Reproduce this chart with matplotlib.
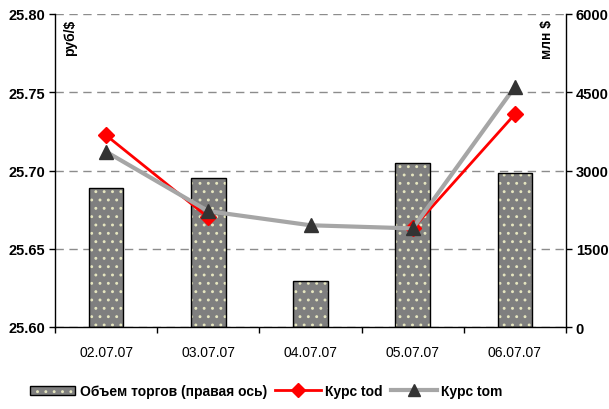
import numpy as np
import matplotlib
matplotlib.use("Agg")
import matplotlib.pyplot as plt
from matplotlib.patches import Patch
from matplotlib.lines import Line2D
from matplotlib.legend_handler import HandlerTuple

plt.rcParams['font.family'] = ['Liberation Sans', 'DejaVu Sans']
plt.rcParams['hatch.linewidth'] = 0.9

dates = ["02.07.07", "03.07.07", "04.07.07", "05.07.07", "06.07.07"]
volume = [2665, 2860, 880, 3150, 2960]
kurs_tod = [25.7225, 25.670, np.nan, 25.663, 25.736]
kurs_tom = [25.712, 25.674, 25.665, 25.663, 25.7535]

fig = plt.figure(figsize=(6.09, 4.10), dpi=100)
axL = fig.add_axes([55/609, 1-328/410, (566-55)/609, (328-15)/410])
axR = axL.twinx()
axL.set_zorder(axR.get_zorder() + 1)
axL.patch.set_visible(False)

x = np.arange(len(dates))
# bars on right axis
axR.bar(x, volume, width=0.34, color="#7f7f7f", edgecolor="#e6e6c0",
        hatch="..", linewidth=0, zorder=2)
axR.bar(x, volume, width=0.34, facecolor="none", edgecolor="black",
        linewidth=1.0, zorder=3)
axR.set_ylim(0, 6000)
axR.set_yticks([0, 1500, 3000, 4500, 6000])
axR.yaxis.grid(True, linestyle=(0, (6, 4)), color="#8c8c8c", linewidth=1.0, zorder=0)
axR.set_axisbelow(True)

# lines on left axis (gap where no tod quote)
axL.plot(x, kurs_tod, color="#ff0000", linewidth=2, marker="D", markersize=8,
         markerfacecolor="#ff0000", markeredgecolor="#ff0000", zorder=4)
axL.plot(x, kurs_tom, color="#a6a6a6", linewidth=3, marker="^", markersize=10,
         markerfacecolor="#333333", markeredgecolor="#333333", zorder=5)
axL.set_ylim(25.60, 25.80)
axL.set_yticks([25.60, 25.65, 25.70, 25.75, 25.80])
axL.set_yticklabels([f"{v:.2f}" for v in [25.60, 25.65, 25.70, 25.75, 25.80]])
axL.set_xlim(-0.5, len(dates) - 0.5)
axL.set_xticks(x)
axL.set_xticklabels(dates, fontsize=10)
axL.set_xticks(np.arange(-0.5, len(dates), 1.0), minor=True)
axL.tick_params(axis='x', which='major', length=0, pad=13)
axL.tick_params(axis='x', which='minor', length=4, width=1, direction='out')

for ax in (axL, axR):
    ax.spines['top'].set_visible(False)
    for s in ('left', 'right', 'bottom'):
        ax.spines[s].set_color('black')
        ax.spines[s].set_linewidth(1.0)
axL.spines['right'].set_visible(False)
axR.spines['left'].set_visible(False)
axR.spines['bottom'].set_visible(False)

for lab in axL.get_yticklabels():
    lab.set_fontweight('bold'); lab.set_fontsize(10.5)
for lab in axR.get_yticklabels():
    lab.set_fontweight('bold'); lab.set_fontsize(10.5)
axL.tick_params(axis='y', length=4, width=1, direction='out', pad=3)
axR.tick_params(axis='y', length=4, width=1, direction='out', pad=3)

axL.text(0.03, 0.985, "руб/$", transform=axL.transAxes, rotation=90,
         ha='center', va='top', fontsize=10, fontweight='bold')
axL.text(0.962, 0.985, "млн $", transform=axL.transAxes, rotation=90,
         ha='center', va='top', fontsize=10, fontweight='bold')

bar_handle = (Patch(facecolor="#7f7f7f", edgecolor="#e6e6c0", hatch="..", linewidth=0),
              Patch(facecolor="none", edgecolor="black", linewidth=1.0))
handles = [
    bar_handle,
    Line2D([0], [0], color="#ff0000", linewidth=2, marker="D", markersize=7,
           markerfacecolor="#ff0000", markeredgecolor="#ff0000"),
    Line2D([0], [0], color="#a6a6a6", linewidth=3, marker="^", markersize=9,
           markerfacecolor="#333333", markeredgecolor="#333333"),
]
labels = ["Объем торгов (правая ось)", "Курс tod", "Курс tom"]
leg = fig.legend(handles, labels, loc='center', bbox_to_anchor=(266/609, 1-392/410),
                 ncol=3, frameon=False, handlelength=3.3, handletextpad=0.3,
                 columnspacing=0.6, handleheight=0.6,
                 handler_map={tuple: HandlerTuple(ndivide=1, pad=0)},
                 prop={'weight': 'bold', 'size': 10})

fig.savefig("out.png", dpi=100)
